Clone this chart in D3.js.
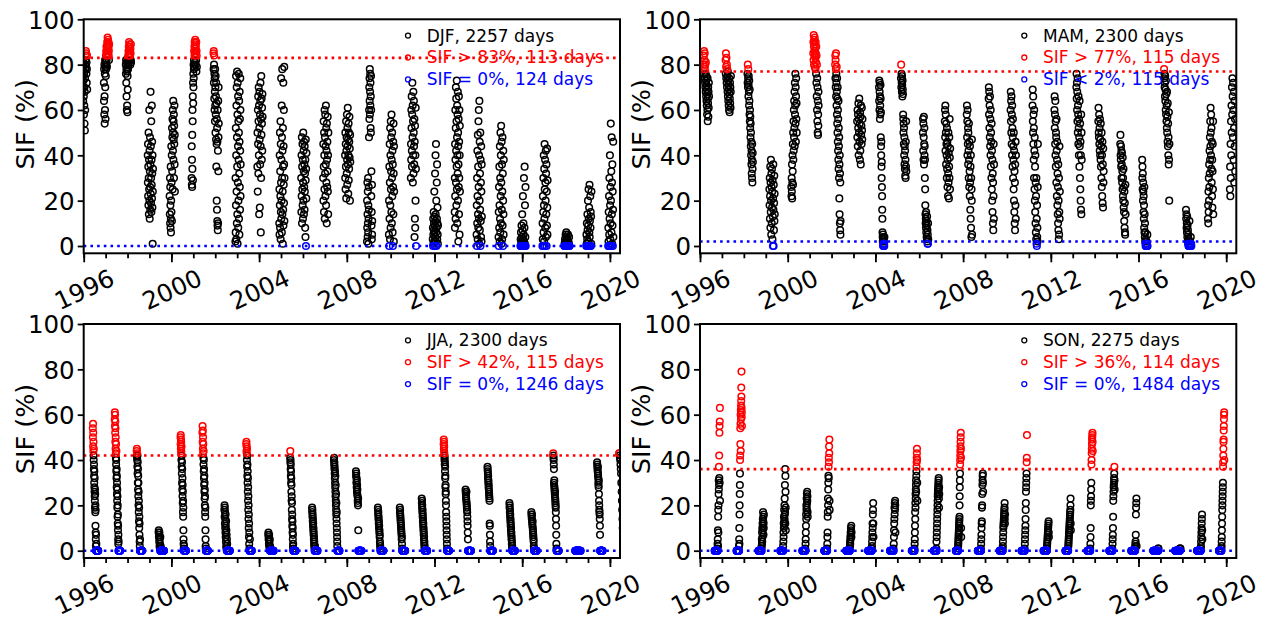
<!DOCTYPE html>
<html><head><meta charset="utf-8">
<script src="https://cdn.jsdelivr.net/npm/d3@7"></script>
<style>body{margin:0;background:#fff} svg{display:block;font-family:"DejaVu Sans",sans-serif}</style>
</head><body><svg id="c" width="1262" height="620"></svg>
<script>
// ---------- data ----------
const seasons = ["DJF","MAM","JJA","SON"];
const seasonDays = [2257,2300,2300,2275];
const upperThr = [83,77,42,36];
const upperDays = [113,115,115,114];
const lowerThr = [0,2,0,0];
const lowerLabel = ["SIF = 0%","SIF < 2%","SIF = 0%","SIF = 0%"];
const lowerDays = [124,115,1246,1484];
// season window within the year (fraction of a year), calendar data
const seasonStart = [-0.083,0.162,0.414,0.666];
const seasonLength = [0.245,0.252,0.252,0.249];
const xTicks = [1996,2000,2004,2008,2012,2016,2020];
const xMinor = [1996,1997,1998,1999,2000,2001,2002,2003,2004,2005,2006,2007,2008,2009,2010,2011,2012,2013,2014,2015,2016,2017,2018,2019,2020];
const yTicks = [0,20,40,60,80,100];

const djfYears = [1996,1997,1998,1999,2000,2001,2002,2003,2004,2005,2006,2007,2008,2009,2010,2011,2012,2013,2014,2015,2016,2017,2018,2019,2020];
const djfSIF = [
[72,78,68,80,75,82,70,77,64,79,73,81,66,58,76,62,70,54,68,51,74,60,78,80,84,82,86,79,85,76,81,72,78,84,69],
[72,64,78,58,80,66,54,76,60,82,70,79,56,81,75,84,78,86,80,88,82,85,79,87,90,84,88,92,86,89,91,85,87,90,88,84,86,82,89],
[80,76,82,72,78,66,81,60,77,62,79,59,75,69,82,78,84,80,86,81,88,84,90,85,87,89,82,86,88,84,80,87,85,82,89,81],
[40,28,45,22,35,18,50,30,14,38,25,60,20,42,12,33,48,26,16,36,68,23,44,19,30,55,15,38,27,62,21,46,32,17,40,1,24,34],
[22,14,30,10,26,18,8,35,12,6,20,44,15,28,40,11,52,33,48,56,25,60,42,50,64,38,55,47,58,30,53,45,62,36,49,24],
[30,44,27,38,26,49,34,60,55,66,29,72,63,76,70,80,74,78,82,86,79,88,84,90,85,81,87,91,84,89,86,80,88,85,82,90,77,86,84,79],
[85,78,86,72,80,84,65,76,60,74,68,55,78,62,70,50,75,58,66,47,72,35,63,45,20,56,16,52,11,46,9,60,7,42,10,64,33,48,70,54],
[2,30,6,52,18,75,40,3,62,24,70,10,48,77,35,14,58,1,72,28,44,66,8,55,20,38,76,50,12,64,32,5,46,68,26,56,16,42,74,60,22,36],
[35,50,24,60,45,66,32,55,70,40,62,14,52,68,47,17,58,36,64,72,44,6,56,30,75,49,65,38,54,61,42,67,57],
[10,25,5,40,18,50,8,33,22,55,3,45,15,28,74,12,38,20,62,6,48,30,78,14,42,24,1,52,35,16,72,9,44,27,60,19,36,79,11,30],
[30,15,40,22,48,10,35,25,45,18,38,12,28,50,20,42,33,14,46,26,36,16,44,24,32,8,38,4,29,47,0,34,21,41],
[30,45,20,55,35,15,50,40,25,60,12,48,32,58,22,44,36,62,18,52,28,42,10,54,38,26,46,33,57,24,40,14,50],
[40,30,50,25,45,35,55,21,42,48,32,58,38,27,52,44,61,36,47,23,40,54,29,50,34,46,57,39,43,20,49,37],
[2,20,8,28,14,4,24,10,30,6,18,1,12,26,16,48,60,70,56,74,64,78,58,68,76,62,72,52,66,50,75,60,22,33,9,15,3,27,5,11],
[5,20,0,35,12,45,28,3,52,18,40,8,55,25,33,48,15,58,38,10,30,50,22,42,6,36,0,26,46,14,54,32,2,44,24],
[30,45,38,60,52,66,42,35,58,72,48,62,28,55,40,68,32,50,64,44,36,56,4,46,12,53,8,40,20,61,34,0],
[3,8,0,12,5,1,15,7,10,2,24,6,13,0,9,32,4,11,40,14,2,45,6,20,0,8,28,12,36,3,10,17,5,1,9],
[15,30,8,45,22,60,38,12,52,70,28,42,65,18,55,35,73,25,48,62,10,40,58,32,68,20,50,44,2,36,56,26,66,14,46,30,60,5,40,53,24],
[5,18,0,30,10,42,22,3,49,14,35,8,55,26,60,12,40,1,64,20,46,7,32,16,50,0,38,11,28,4,44,24,2,36,13],
[4,15,0,26,8,35,18,2,44,12,30,6,50,22,40,10,53,28,1,46,16,36,3,24,48,9,32,0,20,42,14,5,38],
[0,3,0,6,1,0,9,2,0,4,14,0,7,1,22,3,0,10,5,0,30,2,0,8,35,1,18,0,4,26,0],
[0,10,3,22,0,15,30,6,40,18,2,34,12,45,25,0,38,8,28,20,42,4,32,14,36,0,24,9,43,17,5,29],
[0,1,0,3,0,2,5,0,1,6,0,4,2,0,3,1,0,5,0,2,0,1,4,0,0],
[0,5,1,10,0,3,14,7,0,20,9,2,25,12,0,17,6,27,4,11,0,22,8,15,0,13,1,24],
[0,8,2,15,0,22,5,30,12,0,40,18,3,26,10,54,20,0,33,6,48,14,28,1,36,9,24,0,16,46,4]
];

const mamYears = [1996,1997,1998,1999,2000,2001,2002,2003,2004,2005,2006,2007,2008,2009,2010,2011,2012,2013,2014,2015,2016,2017,2018,2019,2020];
const mamSIF = [
[80,84,76,86,79,82,74,85,78,72,80,70,76,68,81,73,66,75,64,71,62,69,58,67,60,74,55,65,63,70,57,68,61,72,66],
[82,76,85,79,74,83,72,80,70,78,75,68,77,66,73,64,71,62,69,60,74,67,59,65,72,63,70,61,68,75],
[76,72,80,70,74,78,66,71,75,68,62,73,64,58,69,55,60,52,57,48,54,44,50,40,46,36,42,32,38,30,45,28,34,41,37],
[25,18,30,12,22,35,8,28,15,38,20,5,32,26,10,34,17,24,3,29,13,0,21,36,16,0,27,7,19,31,11,23,14],
[26,22,30,24,36,21,28,40,33,45,27,50,38,55,42,60,48,64,52,68,44,72,58,62,76,54,70,46,66,74,56,63,50],
[85,90,82,93,88,80,91,86,84,92,79,89,87,83,78,90,85,81,76,88,72,84,66,80,60,74,55,70,50,64,49,58,53,68,62],
[80,84,74,82,70,78,85,66,76,72,62,79,68,58,74,54,65,50,70,46,60,42,56,38,64,34,52,44,30,48,21,36,14,40,10,32,7,28,5,11],
[55,48,60,44,58,52,63,40,56,50,65,46,54,38,59,42,57,36,62,49,53,45,61,51,47,56],
[70,64,73,60,68,72,56,66,62,58,71,65,48,59,44,40,46,35,30,37,26,22,16,12,6,4,2,5,0,1,3,0,1,2,0,1,0,4],
[74,80,70,76,72,68,75,71,66,73,69,67,58,56,50,54,45,52,40,48,36,44,34,42,31,38,30,46,35,55,33],
[50,56,42,54,38,48,57,36,45,52,40,44,30,38,25,18,14,10,12,8,15,6,11,4,9,3,13,2,7,1,5,1,10,3],
[55,60,48,62,42,58,50,36,54,45,40,30,52,34,46,26,38,44,22,32,50,28,41,21,35,48,30,56,39,25,43],
[58,62,48,55,40,60,45,52,36,50,42,30,54,38,26,46,33,22,44,28,16,35,12,40,8,30,4,25,20,47,5],
[65,70,58,68,52,62,48,66,44,56,40,60,35,50,46,30,54,25,42,20,38,15,32,10,28,7,22,45,12,36],
[60,68,55,64,50,66,45,58,40,62,52,35,48,56,30,44,38,25,50,20,42,15,33,10,28,7,36,18,46,12,40],
[62,69,55,50,66,45,58,38,52,30,60,42,25,48,20,35,15,40,10,28,6,22,3,30,1,12,0,18,4,8,2,26,45],
[60,66,52,58,45,64,40,55,35,50,48,28,56,42,22,38,46,18,32,14,26,10,36,7,20,3,30,5,15,44,12,24],
[70,76,65,72,60,68,55,74,50,62,58,45,66,52,40,56,48,35,64,44,30,54,25,46,20,40,16,58,14,50,38],
[55,61,50,48,58,45,52,42,56,40,47,38,54,35,44,30,50,26,40,22,46,19,36,17,43,28,33],
[45,49,40,38,44,35,42,30,36,41,28,33,25,39,22,30,20,34,17,26,15,11,24,8,19,6,5,27,14],
[38,30,35,25,32,20,28,24,15,22,12,18,8,26,6,14,4,10,2,6,1,0,3,0,1,0,0,2,0,1,0,5,0],
[78,74,76,70,72,66,75,64,69,60,73,58,67,55,62,52,68,50,57,46,63,44,54,40,48,36,59,38,20,45],
[16,12,14,8,10,6,13,4,9,2,7,1,5,0,3,0,1,0,11,0,2,0,1,0,0,4,0,1,0],
[12,18,10,24,15,30,20,36,26,42,32,48,38,55,44,61,50,40,58,34,52,28,46,22,38,17,33,45,25,55,14],
[25,35,22,45,30,55,40,62,50,70,58,74,66,48,72,60,38,68,52,28,64,44,56,33]
];

const jjaYears = [1996,1997,1998,1999,2000,2001,2002,2003,2004,2005,2006,2007,2008,2009,2010,2011,2012,2013,2014,2015,2016,2017,2018,2019,2020];
const jjaSIF = [
[54,50,56,46,52,44,48,42,40,45,36,38,33,30,35,28,26,32,24,22,27,19,25,17,20,11,18,8,5,2,7,0,0,3,0,0,0,0,0,0,0,0,0,0,0,0,0,0,0,0,0,0],
[58,61,55,60,52,57,48,54,45,50,43,41,47,38,40,35,44,32,36,28,33,25,30,22,27,19,24,15,20,12,16,9,11,5,3,7,0,4,0,0,0,0,0,0,0,0,0,0,0,0,0,0,0],
[44,42,45,41,43,40,37,42,34,39,30,36,27,33,24,30,20,26,17,22,13,19,10,15,7,12,4,2,0,5,0,0,0,0,0,0,0,0,0,0,0,0,0,0,0,0,0,0],
[8,9,6,7,4,8,2,5,1,3,0,6,0,2,0,0,1,0,0,0,0,0,0,0,0,0,0,0,0,0,0,0,0,0,0,0],
[50,47,51,45,49,43,48,44,40,46,37,42,34,39,30,36,27,32,24,29,21,26,17,22,15,19,9,5,3,1,0,2,0,0,0,0,0,0,0,0,0,0,0,0,0,0,0,0,0,0],
[52,55,48,53,45,50,43,47,41,38,44,35,40,32,36,29,33,26,30,23,27,20,24,17,15,19,9,5,2,1,0,0,0,0,0,0,0,0,0,0,0,0,0,0,0,0,0,0],
[18,20,15,19,12,17,10,14,8,16,6,11,4,13,2,9,1,7,0,5,0,3,0,0,0,0,0,0,0,0,0,0,0,0,0,0,0,0,0,0,0,0],
[47,48,44,46,43,40,45,37,42,33,38,30,35,26,32,22,28,18,24,14,20,10,16,6,12,3,8,1,0,0,0,5,0,0,0,0,0,0,0,0,0,0,0,0,0,0,0,0],
[7,8,5,6,3,7,2,4,1,5,0,2,0,0,1,0,0,0,0,0,0,0,0,0,0,0,0,0,0,0,0,0,0],
[41,44,39,40,36,38,33,35,30,32,26,29,22,24,18,21,14,16,11,13,8,10,5,7,2,3,1,0,0,0,0,0,0,0,0,0,0,0,0,0,0,0,0,0,0,0],
[19,17,18,15,16,13,14,11,12,9,10,7,8,5,6,3,4,2,1,0,0,2,0,0,0,0,0,0,0,0,0,0,0,0,0,0,0,0,0,0,0],
[40,41,38,39,36,37,34,32,35,30,28,33,26,24,29,22,20,25,18,16,21,14,12,17,10,8,6,4,2,0,0,0,0,0,0,0,0,0,0,0,0,0,0,0,0,0,0],
[35,33,34,30,32,28,31,26,29,25,27,24,22,21,20,23,9,0,0,0,0,0,0,0,0,0,0,0,0,0,0,0,0,0,0,0,0,0],
[19,18,16,17,14,15,12,13,10,11,8,9,6,7,4,3,2,1,0,0,0,0,0,0,0,0,0,0,0,0,0,0,0,0,0,0,0,0],
[19,17,18,16,15,14,13,12,11,10,9,8,7,5,6,3,1,0,0,0,0,0,0,0,0,0,0,0,0,0,0,0,0,0,0,0,0,0],
[23,21,22,19,20,17,18,15,16,13,14,11,12,9,10,7,8,5,6,3,4,1,2,0,0,0,0,0,0,0,0,0,0,0,0,0,0,0,0,0,0,0],
[47,49,45,48,44,46,43,42,40,41,38,39,35,37,32,33,28,29,25,26,22,20,17,15,13,11,9,7,5,3,1,0,0,0,0,0,0,0,0,0,0,0,0,0,0,0,0,0,0],
[27,26,25,24,23,22,26,21,20,19,18,17,15,13,11,8,5,0,0,0,0,0,0,0,0,0,0,0,0,0,0,0,0,0,0,0,0,0],
[37,36,35,34,32,33,30,31,28,29,27,26,25,24,23,22,12,11,7,4,2,0,0,0,0,0,0,0,0,0,0,0,0,0,0,0,0,0,0,0,0],
[21,19,20,17,18,15,16,13,14,11,12,9,10,7,8,5,6,3,4,1,2,0,0,0,0,0,0,0,0,0,0,0,0,0,0,0,0,0,0,0],
[17,16,15,14,16,13,12,11,13,10,9,8,7,6,5,4,2,1,0,0,0,0,0,0,0,0,0,0,0,0,0,0,0,0,0,0],
[43,42,41,40,38,36,30,29,31,28,27,26,25,24,26,23,22,21,20,19,17,14,11,7,3,1,0,0,0,0,0,0,0,0,0,0,0,0,0,0,0,0,0],
[0,0,0,0,0,0,0,0,0,0,0,0,0,0,0,0,0,0,0,0,0,0,0,0,0,0,0,0,0,0,0,0,0,0,0,0],
[39,38,37,36,35,37,34,33,32,30,29,28,31,25,22,20,18,17,16,14,11,7,0,0,0,0,0,0,0,0,0,0,0,0,0,0,0,0,0,0],
[43,43,42,41,40,38,36,34,30,26,22,18,14,10,6,0,0,0,0,0]
];

const sonYears = [1996,1997,1998,1999,2000,2001,2002,2003,2004,2005,2006,2007,2008,2009,2010,2011,2012,2013,2014,2015,2016,2017,2018,2019];
const sonSIF = [
[0,0,0,0,0,0,0,0,0,0,0,0,0,0,0,0,0,0,0,0,0,0,0,1,0,3,0,5,9,2,15,18,8,20,25,31,27,37,29,42,32,52,55,30,57,63,22],
[0,0,0,0,0,0,0,0,0,0,0,0,0,0,0,0,0,0,0,0,0,0,2,0,5,10,3,16,20,25,29,34,40,42,54,47,56,60,44,62,58,64,66,72,68,79,63,59,61,55],
[0,0,0,0,0,0,0,0,0,0,0,0,0,0,0,0,0,0,0,0,0,0,0,1,0,2,5,3,8,4,10,6,12,9,14,11,17,13,15,7,12,10,16],
[0,0,0,0,0,0,0,0,0,0,0,0,0,0,0,0,0,0,0,0,0,0,2,0,4,8,6,12,10,15,11,18,13,20,14,23,16,29,17,36,12,33,26,19,9],
[0,0,0,0,0,0,0,0,0,0,0,0,0,0,0,0,0,0,0,0,0,0,1,0,3,5,8,11,16,14,20,18,23,19,25,21,26,22,24,17,15],
[0,0,0,0,0,0,0,0,0,0,0,0,0,0,0,0,0,0,0,0,0,1,0,3,6,8,15,17,23,20,27,30,33,37,32,41,39,46,43,49,22,18],
[0,0,0,0,0,0,0,0,0,0,0,0,0,0,0,0,0,0,0,0,0,0,0,0,1,0,2,4,3,6,5,8,7,10,9,11,6,8],
[0,0,0,0,0,0,0,0,0,0,0,0,0,0,0,0,0,0,0,0,0,0,0,1,0,2,4,6,8,12,10,16,18,21,12,6],
[0,0,0,0,0,0,0,0,0,0,0,0,0,0,0,0,0,0,0,0,0,0,0,1,0,3,6,9,12,14,19,16,21,18,22,20,8],
[0,0,0,0,0,0,0,0,0,0,0,0,0,0,0,0,0,0,0,0,0,1,0,3,5,8,11,17,14,21,19,25,23,27,29,31,26,33,35,37,39,41,43,45,40,30,22],
[0,0,0,0,0,0,0,0,0,0,0,0,0,0,0,0,0,0,0,0,0,1,4,0,6,8,10,12,14,16,18,20,22,24,25,26,27,28,29,30,31,32,27,23,19,28,25],
[0,0,0,0,0,0,0,0,0,0,0,0,0,0,0,0,0,0,0,0,0,1,0,2,3,4,5,6,7,8,9,10,11,12,13,14,15,20,24,28,31,34,38,40,42,44,46,48,50,52,45,41,10,6],
[0,0,0,0,0,0,0,0,0,0,0,0,0,0,0,0,0,0,0,0,0,0,1,0,3,5,7,10,12,13,19,20,25,29,31,33,34,30,26],
[0,0,0,0,0,0,0,0,0,0,0,0,0,0,0,0,0,0,0,0,0,0,1,0,2,4,6,8,10,11,12,13,14,15,16,17,18,19,21,14,12,16],
[0,0,0,0,0,0,0,0,0,0,0,0,0,0,0,0,0,0,0,0,0,1,0,3,5,7,9,11,14,18,21,26,28,30,32,34,39,41,51],
[0,0,0,0,0,0,0,0,0,0,0,0,0,0,0,0,0,0,0,0,0,0,0,1,0,2,3,4,5,6,7,8,9,10,11,12,13,8,6],
[0,0,0,0,0,0,0,0,0,0,0,0,0,0,0,0,0,0,0,0,0,1,0,2,3,4,5,6,7,8,9,10,11,12,13,14,15,16,17,18,20,23,12,9],
[0,0,0,0,0,0,0,0,0,0,0,0,0,0,0,0,0,0,0,0,0,1,0,3,6,10,20,22,24,27,30,38,40,43,45,47,49,50,51,52,48,44],
[0,0,0,0,0,0,0,0,0,0,0,0,0,0,0,0,0,0,0,0,0,1,0,3,5,7,10,15,22,24,26,28,29,30,32,34,37,31,27],
[0,0,0,0,0,0,0,0,0,0,0,0,0,0,0,0,0,0,0,0,0,0,0,1,0,2,3,4,7,16,19,21,23,2],
[0,0,0,0,0,0,0,0,0,0,0,0,0,0,0,0,0,0,0,0,0,0,0,0,0,0,0,1,0,1],
[0,0,0,0,0,0,0,0,0,0,0,0,0,0,0,0,0,0,0,0,0,0,0,0,0,1,0,1,1],
[0,0,0,0,0,0,0,0,0,0,0,0,0,0,0,0,0,0,0,0,0,0,0,1,0,2,4,6,8,10,12,14,16,9,5],
[0,0,0,0,0,0,0,0,0,0,0,0,0,0,0,0,0,0,0,0,0,1,0,2,4,6,9,12,15,18,20,22,24,26,28,30,37,39,42,45,48,49,53,55,58,60,61,40]
];

// ---------- drawing ----------
const svg = d3.select("#c");
const W = 536.3, H = 234;
const lefts = [83.7,700,83.7,700], tops = [19.3,19.3,324,324];
const allData = [djfSIF, mamSIF, jjaSIF, sonSIF];
const allYears = [djfYears, mamYears, jjaYears, sonYears];
const col = {k:"#000000", r:"#ff0000", b:"#0000ff"};
const FS = 24.5;

seasons.forEach((s,i)=>{
  const g = svg.append("g").attr("transform",`translate(${lefts[i]},${tops[i]})`);
  const x = d3.scaleLinear().domain([1996,2020.46]).range([0,W]);
  const y = d3.scaleLinear().domain([-3.22,100]).range([H,0]);

  g.append("clipPath").attr("id","clip"+i).append("rect").attr("width",W).attr("height",H);

  const pts = [];
  allData[i].forEach((vals,k)=>{
    const yr = allYears[i][k];
    vals.forEach((v,j)=>{
      const t = yr + seasonStart[i] + seasonLength[i]*(j+0.5)/vals.length;
      const isLow = i===1 ? v < lowerThr[i] : v <= lowerThr[i];
      const c = isLow ? "b" : (v > upperThr[i] ? "r" : "k");
      pts.push({t,v,c});
    });
  });
  const ord = {k:0,r:1,b:2};
  pts.sort((a,b)=>ord[a.c]-ord[b.c]);

  const pg = g.append("g").attr("clip-path",`url(#clip${i})`);
  pg.selectAll("circle").data(pts).join("circle")
    .attr("cx",d=>x(d.t)).attr("cy",d=>y(d.v)).attr("r",3.3)
    .attr("fill","none").attr("stroke",d=>col[d.c]).attr("stroke-width",1.5);

  // threshold lines
  pg.append("line").attr("x1",0).attr("x2",W).attr("y1",y(upperThr[i])).attr("y2",y(upperThr[i]))
    .attr("stroke",col.r).attr("stroke-width",2.6).attr("stroke-dasharray","2.6 4.1");
  pg.append("line").attr("x1",0).attr("x2",W).attr("y1",y(lowerThr[i])).attr("y2",y(lowerThr[i]))
    .attr("stroke",col.b).attr("stroke-width",2.6).attr("stroke-dasharray","2.6 4.1");

  // axes
  const xMin = g.append("g").attr("transform",`translate(0,${H})`)
    .call(d3.axisBottom(x).tickValues(xMinor).tickSize(5).tickSizeOuter(0).tickFormat(""));
  const xAx = g.append("g").attr("transform",`translate(0,${H})`)
    .call(d3.axisBottom(x).tickValues(xTicks).tickSize(9).tickSizeOuter(0).tickFormat(d3.format("d")));
  const yAx = g.append("g")
    .call(d3.axisLeft(y).tickValues(yTicks).tickSize(6).tickPadding(3).tickSizeOuter(0));
  [xMin,xAx,yAx].forEach(a=>{
    a.select(".domain").remove();
    a.attr("font-family",null).attr("font-size",null);
    a.selectAll("line").attr("stroke","#000").attr("stroke-width",1.8);
  });
  xAx.selectAll("text").attr("y",null).attr("dy","0.36em").attr("fill","#000")
    .attr("transform","translate(0,36) rotate(-25)").attr("font-size",FS);
  yAx.selectAll("text").attr("fill","#000").attr("font-size",FS).attr("dy","0.36em");

  // frame
  g.append("rect").attr("width",W).attr("height",H).attr("fill","none")
    .attr("stroke","#000").attr("stroke-width",2);

  // y label
  g.append("text").attr("transform",`translate(${25-83.7},${H/2-12}) rotate(-90)`)
    .attr("text-anchor","middle").attr("dy","0.36em").attr("font-size",25.5).text("SIF (%)");

  // legend
  const leg = [
    {t:`${s}, ${seasonDays[i]} days`, c:col.k},
    {t:`SIF > ${upperThr[i]}%, ${upperDays[i]} days`, c:col.r},
    {t:`${lowerLabel[i]}, ${lowerDays[i]} days`, c:col.b}
  ];
  leg.forEach((L,k)=>{
    const by = 22.3 + k*21.9;
    g.append("circle").attr("cx",324.3).attr("cy",by-6).attr("r",2.5)
      .attr("fill","none").attr("stroke",L.c).attr("stroke-width",1.3);
    g.append("text").attr("x",343).attr("y",by).attr("font-size",17).attr("fill",L.c).text(L.t);
  });
});
</script></body></html>
